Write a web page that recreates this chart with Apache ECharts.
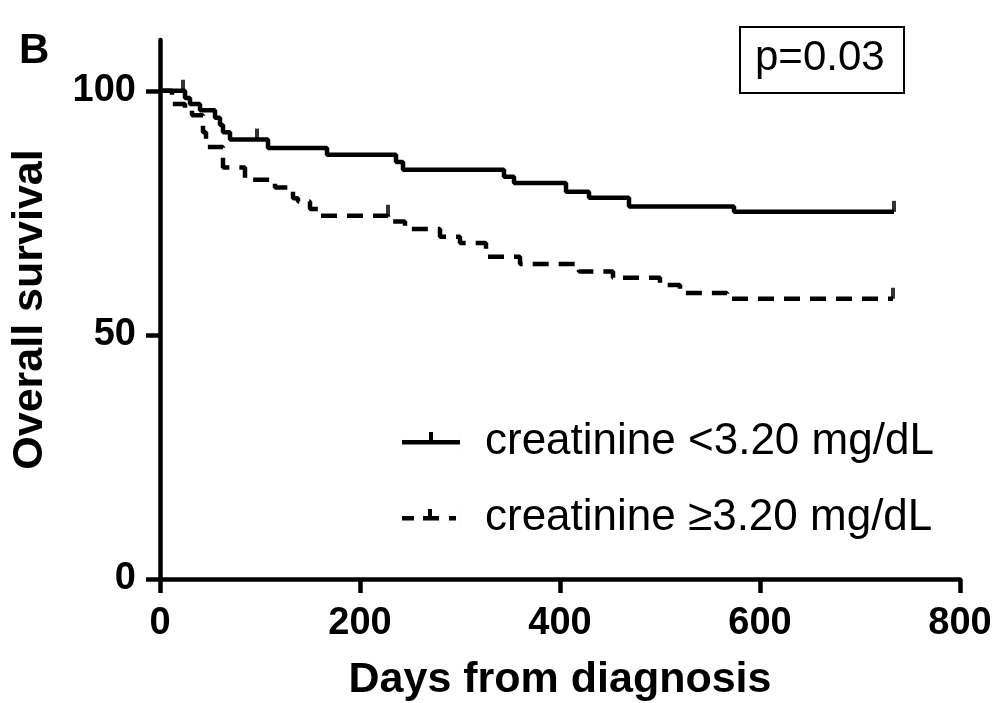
<!DOCTYPE html>
<html>
<head>
<meta charset="utf-8">
<script src="https://cdn.jsdelivr.net/npm/echarts@6/dist/echarts.min.js"></script>
<style>
html,body{margin:0;padding:0;background:#fff;}
#chart{width:999px;height:703px;}
</style>
</head>
<body>
<div id="chart"></div>
<script>
// ---- Data ----
var seriesNames = ['creatinine <3.20 mg/dL', 'creatinine \u22653.20 mg/dL'];

var lowDays  = [0, 25, 30, 40, 55, 60, 63, 70, 108, 167, 236, 243, 344, 354, 406, 429, 469, 574, 734];
var lowSurv  = [100, 98.5, 97.3, 96, 94.5, 93, 91.5, 90, 88.3, 86.9, 85.4, 83.8, 82.4, 81.1, 79.3, 78.1, 76.3, 75.2, 75.2];

var highDays = [0, 12, 25, 32, 43, 46, 63, 85, 115, 133, 138, 150, 158, 228, 245, 280, 300, 326, 360, 419, 453, 500, 520, 567, 733];
var highSurv = [100, 97.3, 96, 95, 91.5, 88.5, 84.3, 81.8, 80.2, 78, 77.3, 75.8, 74.4, 73.2, 71.7, 70.1, 68.8, 66, 64.5, 63, 61.7, 60.2, 58.6, 57.4, 57.4];

var lowCensorDays  = [23, 97, 734];
var lowCensorSurv  = [100, 90, 75.2];
var highCensorDays = [228, 733];
var highCensorSurv = [74.4, 57.4];

var xTicks = [0, 200, 400, 600, 800];
var yTicks = [0, 50, 100];
var pValueText = 'p=0.03';
var panelLabel = 'B';
var xTitle = 'Days from diagnosis';
var yTitle = 'Overall survival';

function zip(a, b) { return a.map(function (v, i) { return [v, b[i]]; }); }

var chart = echarts.init(document.getElementById('chart'), null, {renderer: 'canvas'});
var FONT = 'Liberation Sans, Arial, sans-serif';
var lineW = 4.5;

// legend sample icons (58 x 20): line centred vertically with an upward censor tick
var iconBox = ' M0,0L0.01,0L0.01,20L0,20Z M57.99,0L58,0L58,20L57.99,20Z';
var iconSolid  = 'path://M0,8L58,8L58,12.5L0,12.5Z M27,0L31,0L31,9L27,9Z' + iconBox;
var iconDashed = 'path://M0,8L12,8L12,12.5L0,12.5Z M21,8L37,8L37,12.5L21,12.5Z M26,1L30,1L30,9L26,9Z M47,8L54,8L54,12.5L47,12.5Z' + iconBox;

var option = {
  backgroundColor: '#ffffff',
  animation: false,
  title: {
    text: panelLabel, left: 14, top: 25,
    textStyle: {fontFamily: FONT, fontWeight: 'bold', fontSize: 42, color: '#000'}
  },
  grid: {left: 160, right: 39, top: 40, bottom: 124, containLabel: false, outerBoundsMode: 'none'},
  xAxis: {
    type: 'value', min: 0, max: 800, interval: 200,
    name: xTitle, nameLocation: 'middle', nameGap: 80,
    nameTextStyle: {fontFamily: FONT, fontWeight: 'bold', fontSize: 43, color: '#000'},
    axisLine: {show: true, onZero: false, lineStyle: {color: '#000', width: 4.5}},
    axisTick: {show: true, length: 14, lineStyle: {color: '#000', width: 4.5}, customValues: xTicks},
    axisLabel: {fontFamily: FONT, fontWeight: 'bold', fontSize: 38, color: '#000', margin: 26, customValues: xTicks},
    splitLine: {show: false}
  },
  yAxis: {
    type: 'value', min: 0, max: 110.4,
    name: yTitle, nameLocation: 'middle', nameGap: 108, nameRotate: 90,
    nameTextStyle: {fontFamily: FONT, fontWeight: 'bold', fontSize: 43, color: '#000'},
    axisLine: {show: true, onZero: false, lineStyle: {color: '#000', width: 4.5}},
    axisTick: {show: true, length: 14, lineStyle: {color: '#000', width: 4.5}, customValues: yTicks},
    axisLabel: {fontFamily: FONT, fontWeight: 'bold', fontSize: 38, color: '#000', margin: 24, customValues: yTicks},
    splitLine: {show: false}
  },
  legend: {
    orient: 'vertical', left: 397, top: 413,
    data: [
      {name: seriesNames[0], icon: iconSolid},
      {name: seriesNames[1], icon: iconDashed}
    ],
    itemWidth: 58, itemHeight: 20, itemGap: 28,
    itemStyle: {color: '#000', borderWidth: 0},
    lineStyle: {width: 0},
    textStyle: {fontFamily: FONT, fontSize: 44, color: '#000', padding: [0, 0, 0, 20], lineHeight: 48},
    selectedMode: false
  },
  series: [
    {
      name: seriesNames[0], type: 'line', step: 'end', showSymbol: false, symbol: 'none',
      data: zip(lowDays, lowSurv),
      lineStyle: {color: '#000', width: lineW, type: 'solid'},
      itemStyle: {color: '#000'}, z: 3
    },
    {
      name: seriesNames[1], type: 'line', step: 'end', showSymbol: false, symbol: 'none',
      data: zip(highDays, highSurv),
      lineStyle: {color: '#000', width: lineW, type: [16, 10]},
      itemStyle: {color: '#000'}, z: 3
    },
    {
      name: 'censor-low', type: 'scatter', data: zip(lowCensorDays, lowCensorSurv),
      symbol: 'rect', symbolSize: [4, 11], symbolOffset: [0, -5.5],
      itemStyle: {color: '#000'}, z: 4, silent: true
    },
    {
      name: 'censor-high', type: 'scatter', data: zip(highCensorDays, highCensorSurv),
      symbol: 'rect', symbolSize: [4, 11], symbolOffset: [0, -5.5],
      itemStyle: {color: '#000'}, z: 4, silent: true
    }
  ],
  graphic: [
    {
      type: 'rect', left: 739, top: 26,
      shape: {width: 164, height: 66},
      style: {fill: '#fff', stroke: '#000', lineWidth: 2}
    },
    {
      type: 'text', left: 755, top: 37,
      style: {text: pValueText, font: '42px ' + FONT, fill: '#000'}
    }
  ]
};
chart.setOption(option);
</script>
</body>
</html>
